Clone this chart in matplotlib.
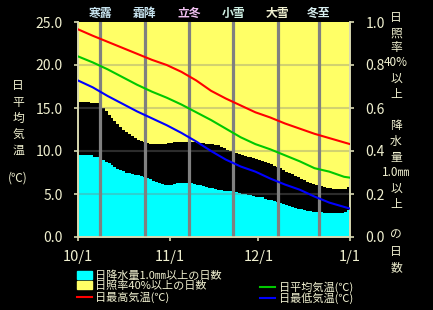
import matplotlib.pyplot as plt
from matplotlib.patches import Patch
from matplotlib.lines import Line2D
import numpy as np

plt.rcParams['font.family'] = ['Noto Sans CJK JP', 'DejaVu Sans']

# daily ratio of days with precipitation >= 1.0mm (Oct 1 .. Dec 31)
rain_ratio = [0.381, 0.381, 0.381, 0.381, 0.381, 0.373, 0.373, 0.373,
              0.358, 0.350, 0.342, 0.334, 0.327, 0.318, 0.311, 0.306,
              0.300, 0.296, 0.291, 0.288, 0.288, 0.284, 0.280, 0.276,
              0.268, 0.260, 0.256, 0.249, 0.246, 0.242, 0.241, 0.244,
              0.248, 0.249, 0.250, 0.252, 0.252, 0.252, 0.250, 0.248,
              0.244, 0.241, 0.238, 0.234, 0.230, 0.228, 0.224, 0.220,
              0.218, 0.216, 0.214, 0.212, 0.210, 0.208, 0.204, 0.202,
              0.200, 0.196, 0.195, 0.192, 0.188, 0.187, 0.184, 0.178,
              0.174, 0.170, 0.166, 0.163, 0.158, 0.152, 0.148, 0.144,
              0.138, 0.134, 0.132, 0.128, 0.124, 0.121, 0.120, 0.118,
              0.116, 0.114, 0.114, 0.112, 0.112, 0.112, 0.112, 0.112,
              0.112, 0.112, 0.116, 0.124]

# daily ratio of days with sunshine ratio >= 40%
sun_ratio = [0.370, 0.370, 0.370, 0.370, 0.377, 0.377, 0.377, 0.377,
             0.400, 0.416, 0.432, 0.448, 0.460, 0.476, 0.488, 0.500,
             0.510, 0.520, 0.530, 0.540, 0.548, 0.552, 0.558, 0.562,
             0.566, 0.569, 0.569, 0.569, 0.568, 0.566, 0.564, 0.561,
             0.560, 0.558, 0.556, 0.556, 0.558, 0.558, 0.560, 0.560,
             0.562, 0.564, 0.564, 0.566, 0.568, 0.569, 0.570, 0.572,
             0.580, 0.588, 0.596, 0.600, 0.604, 0.610, 0.614, 0.620,
             0.624, 0.627, 0.630, 0.634, 0.638, 0.642, 0.646, 0.652,
             0.658, 0.662, 0.668, 0.673, 0.680, 0.688, 0.696, 0.702,
             0.708, 0.714, 0.720, 0.728, 0.736, 0.743, 0.748, 0.752,
             0.756, 0.759, 0.764, 0.768, 0.772, 0.774, 0.776, 0.778,
             0.779, 0.779, 0.776, 0.767]

# temperatures (deg C) at day offsets from Oct 1
t_days = [0, 5, 10, 15, 20, 25, 30, 35, 40, 45, 50, 55, 60, 65, 70, 75, 80, 85, 90, 92]
t_max = [24.15, 23.4, 22.7, 22.0, 21.3, 20.6, 20.0, 19.2, 18.2, 17.0,
         16.1, 15.3, 14.5, 13.9, 13.2, 12.6, 12.0, 11.5, 11.0, 10.8]
t_mean = [21.0, 20.3, 19.5, 18.6, 17.7, 16.9, 16.2, 15.4, 14.5, 13.6,
          12.6, 11.6, 10.8, 10.2, 9.5, 8.8, 8.0, 7.6, 7.0, 6.9]
t_min = [18.2, 17.4, 16.4, 15.5, 14.6, 13.8, 13.0, 12.1, 11.1, 10.0,
         9.0, 8.2, 7.6, 6.8, 6.1, 5.5, 4.7, 4.0, 3.5, 3.3]

month_ticks = [0, 31, 61, 92]
month_labels = ['10/1', '11/1', '12/1', '1/1']

terms = ['寒露', '霜降', '立冬', '小雪', '大雪', '冬至']
term_days = [7, 22, 37, 52, 67, 81]
term_colors = ['#c8e4f0', '#c8e4f0', '#f0c0f0', '#d0f0e4', '#f0f0d0', '#d8eef0']

txt = '#f0f0d0'
axis_col = '#d8d8b0'

fig = plt.figure(figsize=(4.33, 3.10), dpi=100, facecolor='black')
ax = fig.add_axes([78 / 433, 1 - 237 / 310, 272 / 433, 215 / 310])
ax.set_facecolor('black')

days = np.arange(len(rain_ratio))
sun = np.array(sun_ratio)
ax.bar(days, rain_ratio, width=1, align='edge', color='#00ffff', linewidth=0, zorder=1)
ax.bar(days, sun, bottom=1 - sun, width=1, align='edge', color='#ffff66', linewidth=0, zorder=1)

ax.set_xlim(0, 92)
ax.set_ylim(0, 1)
ax.grid(axis='y', color='#808080', alpha=0.35, linewidth=1.5, zorder=2)
ax.set_axisbelow(False)

for d in term_days:
    ax.axvline(d + 0.5, color='#808080', linewidth=2.3, zorder=3)
for name, d, c in zip(terms, term_days, term_colors):
    ax.text(d + 0.5, 1.04, name, color=c, fontsize=8.5, ha='center', va='center',
            transform=ax.get_xaxis_transform(), fontweight='bold')

ax.set_xticks(month_ticks)
ax.set_xticklabels(month_labels)

tx = ax.twinx()
tx.set_ylim(0, 25)
tx.plot(t_days, t_max, color='#ff0000', linewidth=1.5, zorder=5)
tx.plot(t_days, t_mean, color='#00c800', linewidth=1.5, zorder=5)
tx.plot(t_days, t_min, color='#0000ff', linewidth=1.5, zorder=5)
tx.yaxis.tick_left()
tx.set_yticks([0, 5, 10, 15, 20, 25])
tx.set_yticklabels(['0.0', '5.0', '10.0', '15.0', '20.0', '25.0'])

# ratio axis on the right (twinx moved it left)
ax.yaxis.tick_right()
ax.set_yticks([0, 0.2, 0.4, 0.6, 0.8, 1.0])
ax.set_yticklabels(['0.0', '0.2', '0.4', '0.6', '0.8', '1.0'])
gl = ax.get_ygridlines()
gl[0].set_visible(False)
gl[-1].set_visible(False)

for a in (ax, tx):
    for s in a.spines.values():
        s.set_color(axis_col)
        s.set_linewidth(1.2)
    a.spines['top'].set_visible(False)
    a.tick_params(colors=axis_col, labelcolor=txt, labelsize=10, length=3, width=1.2)
ax.tick_params(axis='x', labelsize=10.5, pad=6)
tx.tick_params(axis='y', pad=8)
ax.tick_params(axis='y', pad=8)

# left axis label, stacked vertically
for ch, y in zip(['日', '平', '均', '気', '温', '(℃)'], [85, 102, 118, 135, 150, 178]):
    fig.text(18 / 433, 1 - y / 310, ch, color=txt, fontsize=8.5, ha='center', va='center')

# right axis label
right_chars = ['日', '照', '率', '40%', '以', '上', '降', '水', '量', '1.0㎜', '以', '上', 'の', '日', '数']
right_y = [18, 33, 48, 63, 78, 95, 125, 141, 157, 172, 188, 205, 235, 252, 268]
for ch, y in zip(right_chars, right_y):
    fig.text(396 / 433, 1 - y / 310, ch, color=txt, fontsize=8.5, ha='center', va='center')

handles = [Patch(color='#00ffff'), Patch(color='#ffff66'),
           Line2D([], [], color='#ff0000', linewidth=1.5),
           Line2D([], [], alpha=0),
           Line2D([], [], color='#00c800', linewidth=1.5),
           Line2D([], [], color='#0000ff', linewidth=1.5)]
labels = ['日降水量1.0㎜以上の日数', '日照率40%以上の日数', '日最高気温(℃)',
          '', '日平均気温(℃)', '日最低気温(℃)']
leg = fig.legend(handles, labels, loc='upper left', bbox_to_anchor=(71 / 433, 1 - 265 / 310),
                 ncol=2, frameon=False, fontsize=8, handlelength=1.4, handleheight=0.65,
                 handletextpad=0.3, columnspacing=3.4, labelspacing=0.0, borderpad=0)
for t in leg.get_texts():
    t.set_color(txt)

fig.savefig('out.png', dpi=100, facecolor='black')
